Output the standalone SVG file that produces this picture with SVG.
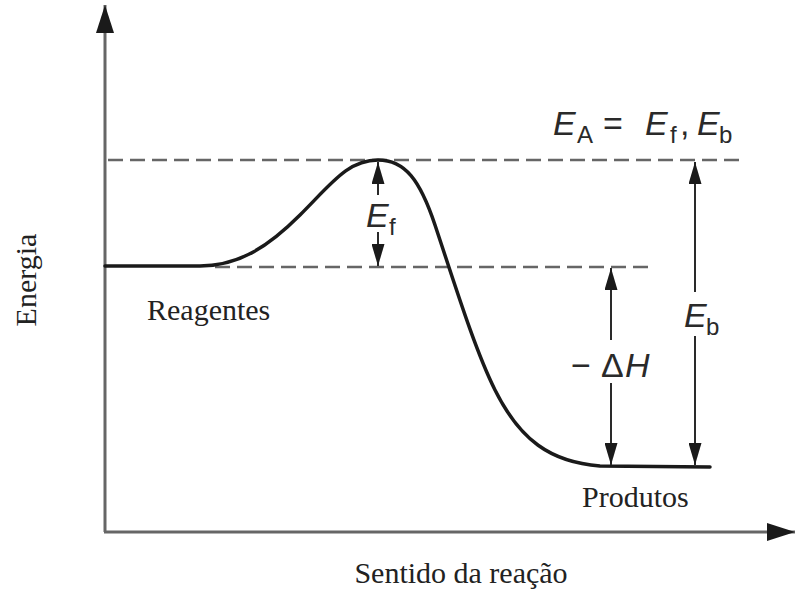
<svg xmlns="http://www.w3.org/2000/svg" width="795" height="592" viewBox="0 0 795 592">
  <style>
    .axis { stroke: #666; stroke-width: 3; fill: none; }
    .dash { stroke: #666; stroke-width: 2.5; stroke-dasharray: 15 7; fill: none; }
    .curve { stroke: #1a1a1a; stroke-width: 3.5; fill: none; stroke-linecap: round; }
    .arr { stroke: #2a2a2a; stroke-width: 2; fill: none; }
    .serif { font-family: "Liberation Serif", "Times New Roman", serif; font-size: 30px; fill: #222; }
    .math { font-family: "Liberation Sans", Arial, sans-serif; font-size: 34px; fill: #2a2a2a; }
    .it { font-style: italic; }
    .sub { font-size: 24px; }
  </style>
  <defs>
    <marker id="ah" viewBox="0 0 22 13" refX="22" refY="6.5" markerWidth="22" markerHeight="13" markerUnits="userSpaceOnUse" orient="auto">
      <path d="M0,0 L22,6.5 L0,13 z" fill="#1a1a1a"/>
    </marker>
    <marker id="axh" viewBox="0 0 28 18" refX="28" refY="9" markerWidth="28" markerHeight="18" markerUnits="userSpaceOnUse" orient="auto">
      <path d="M0,0 L28,9 L0,18 z" fill="#1a1a1a"/>
    </marker>
  </defs>

  <g id="axes">
    <line class="axis" x1="105" y1="532" x2="105" y2="5" marker-end="url(#axh)"/>
    <line class="axis" x1="104" y1="532" x2="795" y2="532" marker-end="url(#axh)"/>
  </g>

  <g id="levels">
    <line class="dash" x1="108" y1="160" x2="745" y2="160"/>
    <line class="dash" x1="215" y1="267" x2="652" y2="267"/>
  </g>

  <g id="curve">
    <path class="curve" d="M105,266 L200,266 C240,266 270,245 300,215 C332,183 348,160 378,160 C405,160 420,180 435,225 C455,285 475,350 495,390 C520,440 550,462 600,466 L710,467"/>
  </g>

  <g id="connectors">
    <line class="arr" x1="378" y1="195" x2="378" y2="162" marker-end="url(#ah)"/>
    <line class="arr" x1="378" y1="232" x2="378" y2="266" marker-end="url(#ah)"/>
    <line class="arr" x1="611" y1="340" x2="611" y2="268" marker-end="url(#ah)"/>
    <line class="arr" x1="611" y1="383" x2="611" y2="465" marker-end="url(#ah)"/>
    <line class="arr" x1="695" y1="292" x2="695" y2="162" marker-end="url(#ah)"/>
    <line class="arr" x1="695" y1="336" x2="695" y2="465" marker-end="url(#ah)"/>
  </g>

  <g id="label-EA">
    <text class="math it" x="553" y="135">E</text>
    <text class="math sub" x="577" y="143">A</text>
    <text class="math" x="603" y="135" font-size="38">=</text>
    <text class="math it" x="645" y="135">E</text>
    <text class="math sub" x="670" y="143">f</text>
    <text class="math" x="680" y="135">,</text>
    <text class="math it" x="697" y="135">E</text>
    <text class="math sub" x="719" y="143">b</text>
  </g>

  <g id="label-Ef">
    <text class="math it" x="366" y="227">E</text>
    <text class="math sub" x="389" y="235">f</text>
  </g>

  <g id="label-dH">
    <text class="math" x="571" y="377">−</text>
    <text class="math" x="601" y="377">Δ</text>
    <text class="math it" x="625" y="377">H</text>
  </g>

  <g id="label-Eb">
    <text class="math it" x="684" y="327">E</text>
    <text class="math sub" x="706" y="335">b</text>
  </g>

  <g id="texts">
    <text class="serif" x="147" y="320">Reagentes</text>
    <text class="serif" x="582" y="507">Produtos</text>
    <text class="serif" x="461" y="583" text-anchor="middle">Sentido da reação</text>
    <text class="serif" transform="translate(36,280) rotate(-90)" text-anchor="middle">Energia</text>
  </g>
</svg>
